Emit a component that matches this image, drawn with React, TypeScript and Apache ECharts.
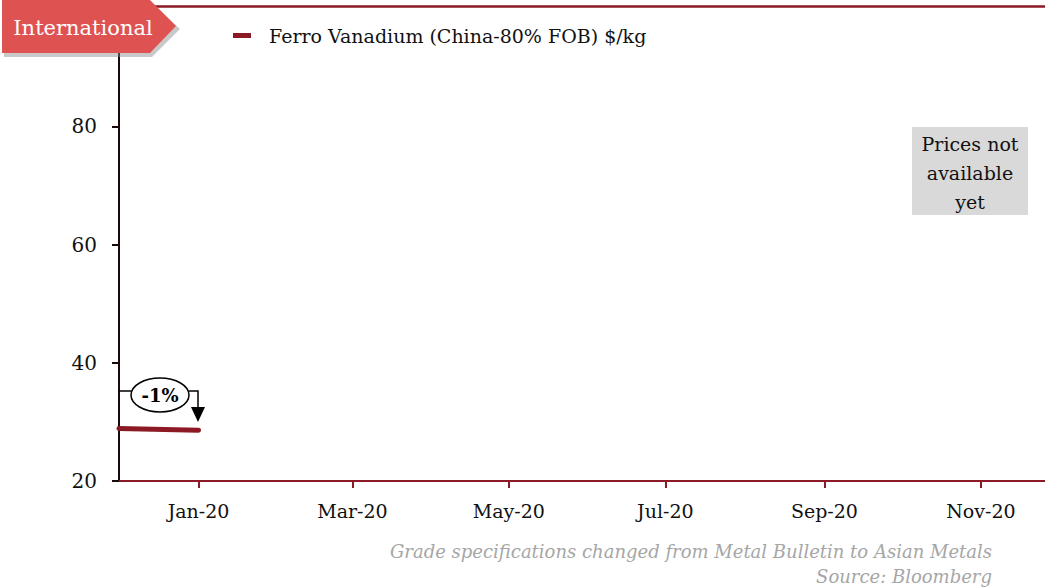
import React, { useEffect, useRef } from "react";
import * as echarts from "echarts";

const seriesName = "Ferro Vanadium (China-80% FOB) $/kg";
const dates: [number, number, number][] = [
  [2019, 11, 1],
  [2020, 0, 1],
];
const values = [28.9, 28.6];
const tickMonths: [number, number][] = [
  [2020, 0],
  [2020, 2],
  [2020, 4],
  [2020, 6],
  [2020, 8],
  [2020, 10],
];
const monthNames = ["Jan", "Feb", "Mar", "Apr", "May", "Jun", "Jul", "Aug", "Sep", "Oct", "Nov", "Dec"];
const yTicks = { min: 20, max: 100, interval: 20 };
const changeLabel = "-1%";
const noteLines = ["Prices not", "available", "yet"];
const footnote1 = "Grade specifications changed from Metal Bulletin to Asian Metals";
const footnote2 = "Source: Bloomberg";
const badgeText = "International";

const FONT = "'DejaVu Serif', 'Liberation Serif', serif";
const DARK_RED = "#8b1a24";

export default function App() {
  const ref = useRef<HTMLDivElement>(null);
  useEffect(() => {
    if (!ref.current) return;
    const chart = echarts.init(ref.current, undefined, { renderer: "svg" });
    const data = dates.map((d, i) => [new Date(d[0], d[1], d[2]).getTime(), values[i]]);
    const ticks = tickMonths.map((m) => new Date(m[0], m[1], 1).getTime());
    const xMin = new Date(2019, 11, 1).getTime();
    const xMax = new Date(2020, 10, 26).getTime();
    chart.setOption({
      animation: false,
      grid: { left: 119, right: 0, top: 8, bottom: 107 },
      legend: {
        show: true,
        left: 228,
        top: 21,
        icon: "rect",
        itemWidth: 18,
        itemHeight: 5,
        textStyle: { fontFamily: FONT, fontSize: 19, color: "#111", padding: [0, 0, 0, 13] },
        data: [seriesName],
      },
      xAxis: {
        type: "value",
        min: xMin,
        max: xMax,
        axisLine: { show: true, lineStyle: { color: DARK_RED, width: 2 } },
        axisTick: { show: true, customValues: ticks, length: 7, lineStyle: { color: DARK_RED, width: 2 } },
        axisLabel: {
          show: true,
          customValues: ticks,
          margin: 20,
          fontFamily: FONT,
          fontSize: 19,
          color: "#111",
          formatter: (v: number) => {
            const d = new Date(v);
            return monthNames[d.getMonth()] + "-" + String(d.getFullYear()).slice(2);
          },
        },
        splitLine: { show: false },
      },
      yAxis: {
        type: "value",
        min: yTicks.min,
        max: yTicks.max,
        interval: yTicks.interval,
        axisLine: { show: true, lineStyle: { color: "#1a0a0a", width: 2 } },
        axisTick: { show: true, length: 7, lineStyle: { color: "#1a0a0a", width: 2 } },
        axisLabel: {
          margin: 22,
          fontFamily: FONT,
          fontSize: 20,
          color: "#111",
          formatter: (v: number) => (v === 100 ? "" : String(v)),
        },
        splitLine: { show: false },
      },
      series: [
        {
          name: seriesName,
          type: "line",
          data,
          showSymbol: false,
          symbol: "none",
          itemStyle: { color: DARK_RED },
          lineStyle: { color: DARK_RED, width: 5, cap: "round" },
        },
      ],
      graphic: [
        { type: "line", z: 5, shape: { x1: 150, y1: 6.5, x2: 1045, y2: 6.5 }, style: { stroke: DARK_RED, lineWidth: 2.5 } },
        // badge
        {
          type: "polygon",
          z: 20,
          shape: { points: [[4, 3], [152, 3], [180, 29], [152, 57], [4, 57]] },
          style: { fill: "#888", opacity: 0.45 },
        },
        {
          type: "polygon",
          z: 21,
          shape: { points: [[2, 0], [150, 0], [176, 26], [150, 53], [2, 53]] },
          style: { fill: "#df5252" },
        },
        {
          type: "text",
          z: 22,
          style: {
            text: badgeText,
            x: 83,
            y: 28,
            align: "center",
            verticalAlign: "middle",
            fontFamily: FONT,
            fontSize: 21,
            fill: "#fff",
          },
        },
        // note box
        { type: "rect", z: 5, shape: { x: 912, y: 127, width: 116, height: 88 }, style: { fill: "#d9d9d9" } },
        ...noteLines.map((t, i) => ({
          type: "text",
          z: 6,
          style: {
            text: t,
            x: 970,
            y: 144 + i * 29,
            align: "center",
            verticalAlign: "middle",
            fontFamily: FONT,
            fontSize: 19,
            fill: "#111",
          },
        })),
        // annotation
        { type: "polyline", z: 6, shape: { points: [[119, 391], [131, 391]] }, style: { stroke: "#000", lineWidth: 1.5, fill: null } },
        { type: "polyline", z: 6, shape: { points: [[189, 391], [198, 391], [198, 408]] }, style: { stroke: "#000", lineWidth: 1.5, fill: null } },
        { type: "polygon", z: 6, shape: { points: [[191, 407], [205, 407], [198, 422]] }, style: { fill: "#000" } },
        { type: "ellipse", z: 6, shape: { cx: 160, cy: 395, rx: 29, ry: 17 }, style: { fill: "#fff", stroke: "#000", lineWidth: 1.5 } },
        {
          type: "text",
          z: 7,
          style: {
            text: changeLabel,
            x: 160,
            y: 395,
            align: "center",
            verticalAlign: "middle",
            fontFamily: FONT,
            fontSize: 18,
            fontWeight: "bold",
            fill: "#000",
          },
        },
        // footnotes
        {
          type: "text",
          z: 6,
          style: {
            text: footnote1,
            x: 992,
            y: 551,
            align: "right",
            verticalAlign: "middle",
            fontFamily: FONT,
            fontStyle: "italic",
            fontSize: 18,
            fill: "#a6a6a6",
          },
        },
        {
          type: "text",
          z: 6,
          style: {
            text: footnote2,
            x: 992,
            y: 576,
            align: "right",
            verticalAlign: "middle",
            fontFamily: FONT,
            fontStyle: "italic",
            fontSize: 18,
            fill: "#a6a6a6",
          },
        },
      ],
    });
    return () => chart.dispose();
  }, []);
  return (
    <div
      ref={ref}
      style={{ width: 1045, height: 588, position: "absolute", left: 0, top: 0, background: "#fff" }}
    />
  );
}
